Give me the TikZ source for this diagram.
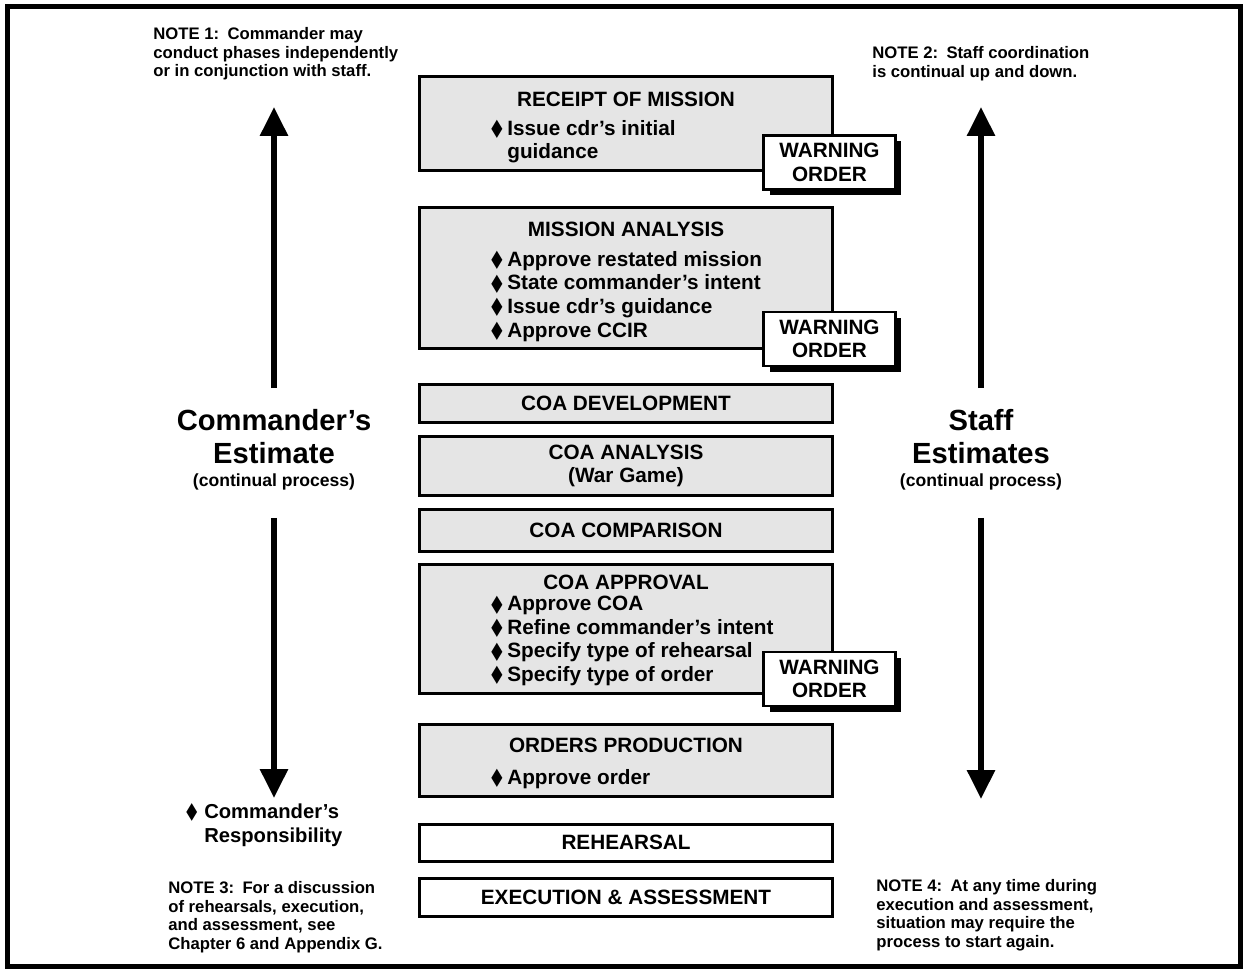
\documentclass[tikz,border=0pt]{standalone}
\usepackage{fontspec}
\setmainfont{Liberation Sans}
\newfontfamily\dejavu{DejaVu Sans}
\usepackage{tikz}
\usetikzlibrary{arrows.meta,positioning,shadows}

% small diamond bullet
\newcommand{\bul}[1][9.1pt]{\makebox[#1][l]{\smash{\raisebox{-0.2pt}{\scalebox{0.7}[1.15]{\dejavu ◆}}}}}

\begin{document}
\begin{tikzpicture}[x=0.02cm, y=-0.02cm,
      phase/.style={draw, line width=0.06cm, fill=gray!20, minimum width=8.26cm, inner sep=0pt,
        font=\fontsize{11.8}{13.4}\selectfont\bfseries, align=center},
      warn/.style={draw, line width=0.05cm, fill=white, minimum width=2.64cm, minimum height=1.08cm,
        inner sep=0pt, align=center, font=\fontsize{11.8}{13.4}\selectfont\bfseries,
        drop shadow={shadow xshift=3.4pt, shadow yshift=-3.4pt, opacity=1, fill=black}},
      ttl/.style={inner sep=0pt, font=\fontsize{11.8}{13.4}\selectfont\bfseries},
      items/.style={anchor=north west, inner sep=0pt, align=left, font=\fontsize{11.8}{13.4}\selectfont\bfseries},
      note/.style={anchor=north west, inner sep=0pt, align=left, font=\fontsize{9.5}{10.6}\selectfont\bfseries},
      est/.style={inner sep=0pt, align=center, font=\fontsize{16.6}{18.8}\selectfont\bfseries},
      estarrow/.style={line width=0.12cm, -{Triangle[length=0.58cm, width=0.54cm]}}]
    \useasboundingbox (0,0) rectangle (1246,969);
    \draw[line width=0.1cm] (7.5,7) rectangle (1240.5,966);

    % phase column
    \node[phase, minimum height=1.88cm, anchor=north] (rom) at (626,75) {};
    \node[phase, minimum height=2.82cm, below=0.68cm of rom] (ma) {};
    \node[phase, minimum height=0.76cm, below=0.66cm of ma] (dev) {COA DEVELOPMENT};
    \node[phase, minimum height=1.18cm, below=0.22cm of dev] (ana) {COA ANALYSIS\\(War Game)};
    \node[phase, minimum height=0.84cm, below=0.22cm of ana] (cmp) {COA COMPARISON};
    \node[phase, minimum height=2.58cm, below=0.20cm of cmp] (app) {};
    \node[phase, minimum height=1.44cm, below=0.56cm of app] (op) {};
    \node[phase, fill=white, minimum height=0.74cm, below=0.50cm of op] (reh) {REHEARSAL};
    \node[phase, fill=white, minimum height=0.76cm, below=0.28cm of reh] (exe) {EXECUTION \& ASSESSMENT};

    \node[ttl] (romT) at (626,99) {RECEIPT OF MISSION};
    \node[items] (romI) at (491,120) {\bul Issue cdr's initial\\\hspace*{9.1pt}guidance};
    \node[ttl] (maT) at (626,229) {MISSION ANALYSIS};
    \node[items] (maI) at (491,251) {\bul Approve restated mission\\\bul State commander's intent\\\bul Issue cdr's guidance\\\bul Approve CCIR};
    \node[ttl] (appT) at (626,582) {COA APPROVAL};
    \node[items] (appI) at (491,596) {\bul Approve COA\\\bul Refine commander's intent\\\bul Specify type of rehearsal\\\bul Specify type of order};
    \node[ttl] (opT) at (626,745) {ORDERS PRODUCTION};
    \node[items] (opI) at (491,769) {\bul Approve order};

    \node[warn] (w1) at (829.5,162.5) {WARNING\\ORDER};
    \node[warn] (w2) at (829.5,339) {WARNING\\ORDER};
    \node[warn] (w3) at (829.5,679) {WARNING\\ORDER};

    % estimates
    \node[est] (ce) at (274,450) {Commander's\\Estimate\\[-5.7pt]{\fontsize{10}{12}\selectfont (continual process)}};
    \node[est] (se) at (981,450) {Staff\\Estimates\\[-5.7pt]{\fontsize{10}{12}\selectfont (continual process)}};
    \coordinate (ceTop) at (274,107);
    \coordinate (ceBot) at (274,798);
    \coordinate (seTop) at (981,107);
    \coordinate (seBot) at (981,799);
    \draw[estarrow, shorten <=0.42cm] (ce.north) -- (ceTop);
    \draw[estarrow, shorten <=0.54cm] (ce.south) -- (ceBot);
    \draw[estarrow, shorten <=0.42cm] (se.north) -- (seTop);
    \draw[estarrow, shorten <=0.54cm] (se.south) -- (seBot);

    \node[items, font=\fontsize{11.5}{14.2}\selectfont\bfseries] (cr) at (186,803) {\bul[10.2pt]Commander's\\\hspace*{10.2pt}Responsibility};

    % notes
    \node[note] (n1) at (153,27) {NOTE 1:\enspace Commander may\\conduct phases independently\\or in conjunction with staff.};
    \node[note] (n2) at (872,46) {NOTE 2:\enspace Staff coordination\\is continual up and down.};
    \node[note] (n3) at (168,881) {NOTE 3:\enspace For a discussion\\of rehearsals, execution,\\and assessment, see\\Chapter 6 and Appendix G.};
    \node[note] (n4) at (876,879) {NOTE 4:\enspace At any time during\\execution and assessment,\\situation may require the\\process to start again.};
  \end{tikzpicture}
\end{document}
